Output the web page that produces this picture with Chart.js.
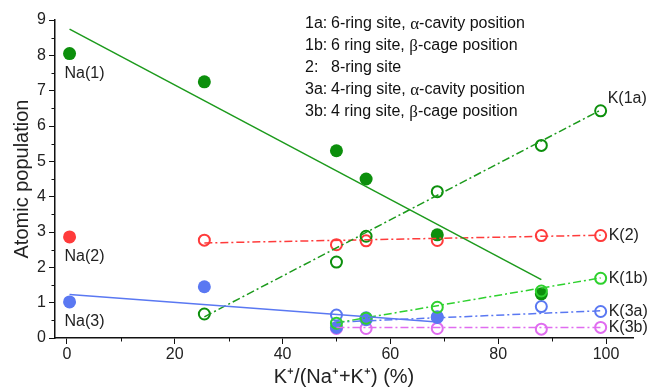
<!DOCTYPE html>
<html>
<head>
<meta charset="utf-8">
<script src="https://cdn.jsdelivr.net/npm/chart.js@4.4.1/dist/chart.umd.min.js"></script>
<style>
html,body{margin:0;padding:0;background:#fff;}
#wrap{position:relative;width:650px;height:388px;}
</style>
</head>
<body>
<div id="wrap"><canvas id="c" width="650" height="388"></canvas></div>
<script>
// ---- data ----
const xNa = [0.5, 25.5, 50, 55.5, 68.7, 88];
const na1 = [8.05, 7.25, 5.3, 4.5, 2.92, 1.25];
const xNa2 = [0.5];
const na2 = [2.86];
const xNa3 = [0.5, 25.5, 50, 55.5, 68.7];
const na3 = [1.02, 1.45, 0.3, 0.52, 0.58];

const xK1a = [25.5, 50, 55.5, 68.7, 88, 99];
const k1a = [0.68, 2.15, 2.88, 4.14, 5.45, 6.43];
const xK = [50, 55.5, 68.7, 88, 99];
const xK2 = [25.5, 50, 55.5, 68.7, 88, 99];
const k2 = [2.77, 2.64, 2.75, 2.76, 2.9, 2.9];
const k1b = [0.42, 0.56, 0.87, 1.33, 1.69];
const k3a = [0.65, 0.57, 0.6, 0.89, 0.75];
const k3b = [0.27, 0.27, 0.27, 0.25, 0.3];

// fitted trend lines: [x0, x1] and [y0, y1]
const fitNa1X = [0.5, 88],  fitNa1Y = [8.74, 1.65];
const fitNa3X = [0.5, 68.7], fitNa3Y = [1.23, 0.45];
const fitK1aX = [25.5, 99], fitK1aY = [0.6, 6.45];
const fitK2X = [25.5, 99],  fitK2Y = [2.69, 2.91];
const fitK1bX = [50, 99],   fitK1bY = [0.43, 1.7];
const fitK3aX = [50, 99],   fitK3aY = [0.45, 0.77];
const fitK3bX = [50, 99],   fitK3bY = [0.3, 0.3];

const xTicksMajor = [0, 20, 40, 60, 80, 100];
const yTicksMajor = [0, 1, 2, 3, 4, 5, 6, 7, 8, 9];

const seriesLabels = [
  {text: 'Na(1)', x: 0.5, y: 8.05, dx: -5, dy: 20, color: '#222'},
  {text: 'Na(2)', x: 0.5, y: 2.86, dx: -5, dy: 20, color: '#222'},
  {text: 'Na(3)', x: 0.5, y: 1.02, dx: -5, dy: 20, color: '#222'},
  {text: 'K(1a)', x: 99, y: 6.43, dx: 7, dy: -12, color: '#222'},
  {text: 'K(2)', x: 99, y: 2.9, dx: 8, dy: 0, color: '#222'},
  {text: 'K(1b)', x: 99, y: 1.69, dx: 8, dy: 0, color: '#222'},
  {text: 'K(3a)', x: 99, y: 0.75, dx: 8, dy: 0, color: '#222'},
  {text: 'K(3b)', x: 99, y: 0.3, dx: 8, dy: 0, color: '#222'}
];
const legendLines = [
  ['1a:', '6-ring site, ', 'α', '-cavity position'],
  ['1b:', '6 ring site, ', 'β', '-cage position'],
  ['2:', '8-ring site', '', ''],
  ['3a:', '4-ring site, ', 'α', '-cavity position'],
  ['3b:', '4 ring site, ', 'β', '-cage position']
];

const C = {
  dkGreen: '#0c8f0c',
  green: '#1c9a1c',
  ltGreen: '#2ed12e',
  red: '#ff3b3b',
  blue: '#5a78f2',
  violet: '#e06cf0'
};

const pts = (xs, ys) => xs.map((x, i) => ({x: x, y: ys[i]}));

function scatterFilled(label, xs, ys, color) {
  return {label, data: pts(xs, ys), showLine: false, pointRadius: 6.5, pointHoverRadius: 6.5,
    pointBackgroundColor: color, pointBorderColor: color, pointBorderWidth: 0};
}
function scatterOpen(label, xs, ys, color) {
  return {label, data: pts(xs, ys), showLine: false, pointRadius: 5.5, pointHoverRadius: 5.5,
    pointBackgroundColor: 'rgba(255,255,255,0)', pointBorderColor: color, pointBorderWidth: 2};
}
function fitLine(label, xs, ys, color, dashed) {
  return {label, data: pts(xs, ys), showLine: true, pointRadius: 0, borderColor: color,
    borderWidth: 1.5, borderDash: dashed ? [8, 3, 2, 3] : [], fill: false, tension: 0};
}

const datasets = [
  fitLine('fitNa1', fitNa1X, fitNa1Y, C.green, false),
  fitLine('fitNa3', fitNa3X, fitNa3Y, C.blue, false),
  fitLine('fitK1a', fitK1aX, fitK1aY, C.green, true),
  fitLine('fitK2', fitK2X, fitK2Y, C.red, true),
  fitLine('fitK1b', fitK1bX, fitK1bY, C.ltGreen, true),
  fitLine('fitK3a', fitK3aX, fitK3aY, C.blue, true),
  fitLine('fitK3b', fitK3bX, fitK3bY, C.violet, true),
  scatterOpen('K(1b)', xK, k1b, C.ltGreen),
  scatterFilled('Na(1)', xNa, na1, C.dkGreen),
  scatterFilled('Na(3)', xNa3, na3, C.blue),
  scatterFilled('Na(2)', xNa2, na2, C.red),
  scatterOpen('K(1a)', xK1a, k1a, C.dkGreen),
  scatterOpen('K(2)', xK2, k2, C.red),
  scatterOpen('K(3a)', xK, k3a, C.blue),
  scatterOpen('K(3b)', xK, k3b, C.violet)
];

const FONT = '"Liberation Sans", Arial, sans-serif';

const decor = {
  id: 'decor',
  afterDraw(chart) {
    const ctx = chart.ctx;
    const xs = chart.scales.x, ys = chart.scales.y;
    const area = chart.chartArea;
    ctx.save();
    // minor ticks
    ctx.strokeStyle = '#111';
    ctx.lineWidth = 1;
    ctx.beginPath();
    for (let v = 10; v <= 100; v += 20) {
      const px = Math.round(xs.getPixelForValue(v)) + 0.5;
      ctx.moveTo(px, area.bottom); ctx.lineTo(px, area.bottom + 3.5);
    }
    for (let v = 0.5; v < 9; v += 1) {
      const py = Math.round(ys.getPixelForValue(v)) + 0.5;
      ctx.moveTo(area.left, py); ctx.lineTo(area.left - 3.5, py);
    }
    ctx.stroke();
    // series labels
    ctx.font = '16px ' + FONT;
    ctx.textBaseline = 'middle';
    ctx.textAlign = 'left';
    seriesLabels.forEach(l => {
      ctx.fillStyle = l.color;
      ctx.fillText(l.text, xs.getPixelForValue(l.x) + l.dx, ys.getPixelForValue(l.y) + l.dy);
    });
    // legend text block
    const lx = 305, tx = 331, ly0 = 24, step = 22;
    legendLines.forEach((ln, i) => {
      const y = ly0 + i * step;
      ctx.fillStyle = '#111';
      ctx.font = '16px ' + FONT;
      ctx.fillText(ln[0], lx, y);
      let x = tx;
      ctx.fillText(ln[1], x, y); x += ctx.measureText(ln[1]).width;
      if (ln[2]) {
        ctx.font = '17px "Liberation Serif", "Times New Roman", serif';
        ctx.fillText(ln[2], x, y + 1); x += ctx.measureText(ln[2]).width;
        ctx.font = '16px ' + FONT;
        ctx.fillText(ln[3], x, y);
      }
    });
    ctx.restore();
  }
};

new Chart(document.getElementById('c'), {
  type: 'scatter',
  data: {datasets},
  options: {
    responsive: false,
    animation: false,
    devicePixelRatio: 1,
    layout: {padding: {top: 20, right: 17, left: 0, bottom: 0}},
    plugins: {legend: {display: false}, tooltip: {enabled: false}},
    scales: {
      x: {
        type: 'linear', min: -2.2, max: 105,
        afterBuildTicks: s => { s.ticks = xTicksMajor.map(v => ({value: v})); },
        afterFit: s => { s.height = 50; },
        border: {display: true, color: '#111', width: 1.5},
        grid: {display: true, drawOnChartArea: false, drawTicks: true, tickLength: 6, tickColor: '#111', tickWidth: 1},
        ticks: {color: '#222', font: {size: 16, family: FONT}, padding: 1, maxRotation: 0},
        title: {display: true, text: 'K⁺/(Na⁺+K⁺) (%)', color: '#222', font: {size: 20, family: FONT}, padding: {top: 0, bottom: -1}}
      },
      y: {
        type: 'linear', min: 0, max: 9,
        afterBuildTicks: s => { s.ticks = yTicksMajor.map(v => ({value: v})); },
        afterFit: s => { s.width = 55; },
        border: {display: true, color: '#111', width: 1.5},
        grid: {display: true, drawOnChartArea: false, drawTicks: true, tickLength: 6, tickColor: '#111', tickWidth: 1},
        ticks: {color: '#222', font: {size: 16, family: FONT}, padding: 3},
        title: {display: true, text: 'Atomic population', color: '#222', font: {size: 20, family: FONT}, padding: {top: 10, bottom: 0}}
      }
    }
  },
  plugins: [decor]
});
</script>
</body>
</html>
